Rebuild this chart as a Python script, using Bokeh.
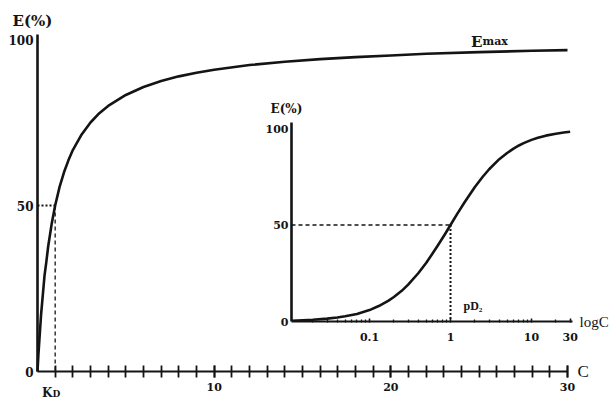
from bokeh.plotting import figure
from bokeh.models import Range1d, LogScale, FixedTicker, Label, LinearAxis, LogAxis
from bokeh.embed import file_html
from bokeh.resources import INLINE

# ---------------- data ----------------
# main panel: effect E(%) against concentration C (linear axis)
conc = [0, 0.05, 0.1, 0.2, 0.3, 0.4, 0.5, 0.6, 0.8, 1, 1.25, 1.5, 1.75, 2, 2.5, 3, 3.5,
        4, 5, 6, 7, 8, 9, 10, 12, 14, 16, 18, 20, 22, 25, 28, 30]
effect = [0, 5, 9, 17, 23, 29, 33, 37.5, 44.4, 50, 55.6, 60, 63.6, 66.7, 71.4, 75, 77.8,
          80, 83.3, 85.7, 87.5, 88.9, 90, 90.9, 92.3, 93.3, 94.1, 94.7, 95.2, 95.7, 96.2,
          96.6, 96.8]
kd = 1.0
half_effect = 50
main_x_ticks = [10, 20, 30]
main_x_minor = list(range(1, 31))
main_y_ticks = [0, 50, 100]

# inset: effect E(%) against log concentration
log_conc = [0.011, 0.015, 0.02, 0.03, 0.04, 0.05, 0.07, 0.1, 0.13, 0.17, 0.2, 0.25, 0.3,
            0.4, 0.5, 0.6, 0.7, 0.85, 1, 1.2, 1.5, 2, 2.5, 3, 4, 5, 6, 7, 8, 10, 12,
            15, 20, 25, 30]
log_effect = [0.4, 0.6, 0.9, 1.5, 2.1, 2.7, 3.9, 5.9, 8.0, 10.7, 12.7, 15.9, 19.1,
              25.0, 30.3, 35.2, 39.5, 45.1, 50, 55.5, 61.9, 69.7, 75.0, 78.9, 84.1, 87.3,
              89.6, 91.2, 92.4, 94.1, 95.2, 96.3, 97.3, 97.9, 98.3]
pd2 = 1.0
inset_x_ticks = [0.1, 1, 10, 30]
inset_x_labels = ["0.1", "1", "10", "30"]
inset_minor = [0.02, 0.03, 0.04, 0.05, 0.06, 0.07, 0.08, 0.09,
               0.2, 0.3, 0.4, 0.5, 0.6, 0.7, 0.8, 0.9,
               2, 3, 4, 5, 6, 7, 8, 9, 20]
inset_y_ticks = [0, 50, 100]

# ---------------- layout constants (canvas pixels) ----------------
W, H = 613, 403
OX, OY = 37, 371                 # main origin (C=0, E=0)
MX = 530 / 30.0                  # main: px per unit of C
MY = 3.32                        # main: px per % of E
MAIN_Y_TOP = 34                  # top end of the main E axis
IX0, IPX = 450, 81.0             # inset: x of C=1, px per decade
IY0, IPY = 321, 1.93             # inset: y of E=0, px per %
I_AX_L, I_AX_R, I_AX_T = 291, 572, 122


def mx(px):
    return (px - OX) / MX


def my(py):
    return (OY - py) / MY


def ix(px):
    return 10 ** ((px - IX0) / IPX)


def iy(py):
    return (IY0 - py) / IPY


INK = "#141414"
SERIF = "DejaVu Serif"

p = figure(width=W, height=H, output_backend="svg", toolbar_location=None,
           x_range=Range1d(mx(0), mx(W)), y_range=Range1d(my(H), my(0)),
           min_border_left=0, min_border_right=0, min_border_top=0, min_border_bottom=0)
p.title.visible = False
p.extra_x_ranges = {"inset": Range1d(ix(0), ix(W))}
p.extra_x_scales = {"inset": LogScale()}
p.extra_y_ranges = {"inset": Range1d(iy(H), iy(0))}

p.outline_line_color = None
p.xgrid.visible = False
p.ygrid.visible = False
p.background_fill_color = "white"
p.border_fill_color = "white"


def style_labels(ax, size="11px"):
    ax.major_label_text_font = SERIF
    ax.major_label_text_font_style = "bold"
    ax.major_label_text_font_size = size
    ax.major_label_text_color = INK


# main x axis (crossing ticks every unit)
xa = p.xaxis[0]
xa.fixed_location = 0
xa.ticker = FixedTicker(ticks=main_x_ticks, minor_ticks=main_x_minor)
xa.bounds = (0, 30)
xa.axis_line_width = 2
xa.axis_line_color = INK
xa.major_tick_in = 6
xa.major_tick_out = 6
xa.minor_tick_in = 6
xa.minor_tick_out = 6
xa.major_tick_line_width = 1.8
xa.minor_tick_line_width = 1.8
xa.major_tick_line_color = INK
xa.minor_tick_line_color = INK
xa.major_label_standoff = 5
style_labels(xa)

# main y axis
ya = p.yaxis[0]
ya.fixed_location = 0
ya.bounds = (0, my(MAIN_Y_TOP))
ya.ticker = FixedTicker(ticks=main_y_ticks, minor_ticks=[])
ya.axis_line_width = 2.6
ya.axis_line_color = INK
ya.major_tick_in = 0
ya.major_tick_out = 0
ya.minor_tick_in = 0
ya.minor_tick_out = 0
ya.major_label_standoff = 4
style_labels(ya, "12px")

# main curve and KD guides
p.line(conc, effect, line_width=2.6, line_color=INK, line_join="round")
p.line([0, kd], [half_effect, half_effect], line_width=2, line_dash="2 2", line_color=INK)
p.line([kd, kd], [half_effect, 0], line_width=1.3, line_dash="4 3", line_color=INK)

# ---------------- inset ----------------
R = dict(x_range_name="inset", y_range_name="inset")
x_left, x_right, y_top = ix(I_AX_L), ix(I_AX_R), iy(I_AX_T)

ixa = LogAxis(fixed_location=0, bounds=(x_left, x_right),
              ticker=FixedTicker(ticks=inset_x_ticks, minor_ticks=inset_minor),
              major_label_overrides={t: s for t, s in zip(inset_x_ticks, inset_x_labels)},
              axis_line_width=2.2, axis_line_color=INK,
              major_tick_in=3, major_tick_out=1, minor_tick_in=2, minor_tick_out=1,
              major_tick_line_width=1.6, minor_tick_line_width=1.3,
              major_tick_line_color=INK, minor_tick_line_color=INK,
              major_label_standoff=10, **R)
style_labels(ixa)
p.add_layout(ixa, "below")

iya = LinearAxis(fixed_location=x_left, bounds=(0, y_top),
                 ticker=FixedTicker(ticks=inset_y_ticks, minor_ticks=[]),
                 axis_line_width=2.6, axis_line_color=INK,
                 major_tick_in=0, major_tick_out=0, minor_tick_in=0, minor_tick_out=0,
                 major_label_standoff=3, **R)
style_labels(iya)
p.add_layout(iya, "left")

p.line(log_conc, log_effect, line_width=2.6, line_color=INK, line_join="round", **R)
p.line([x_left, pd2], [half_effect, half_effect], line_width=1.4, line_dash="4 3",
       line_color=INK, **R)
p.line([pd2, pd2], [half_effect, 0], line_width=2, line_dash="2 2", line_color=INK, **R)


def lab(text, x, y, size, align="left", baseline="middle", style="bold",
        font=SERIF, inset=False):
    kw = dict(x_range_name="inset", y_range_name="inset") if inset else {}
    p.add_layout(Label(x=x, y=y, text=text, text_font=font, text_font_style=style,
                       text_font_size=size, text_align=align, text_baseline=baseline,
                       text_color=INK, **kw))


# main texts
lab("E(%)", mx(32), my(20), "15px", align="center")
lab("E", mx(482), my(41), "15px", align="right", baseline="alphabetic")
lab("max", mx(482), my(41), "11px", align="left", baseline="alphabetic")
lab("C", mx(577), 0, "17px", style="normal", font="Liberation Serif")
lab("K", mx(52), my(392), "12px", align="right", baseline="middle")
lab("D", mx(52), my(393), "9px", align="left", baseline="middle")

# inset texts
lab("E(%)", ix(286), iy(108), "12px", align="center", inset=True)
lab("pD\u2082", ix(463), iy(305), "12px", align="left", inset=True, font="Liberation Serif")
lab("logC", ix(579), 0, "15px", style="normal", font="Liberation Serif", inset=True)

open("out.html", "w").write(file_html(p, INLINE))
